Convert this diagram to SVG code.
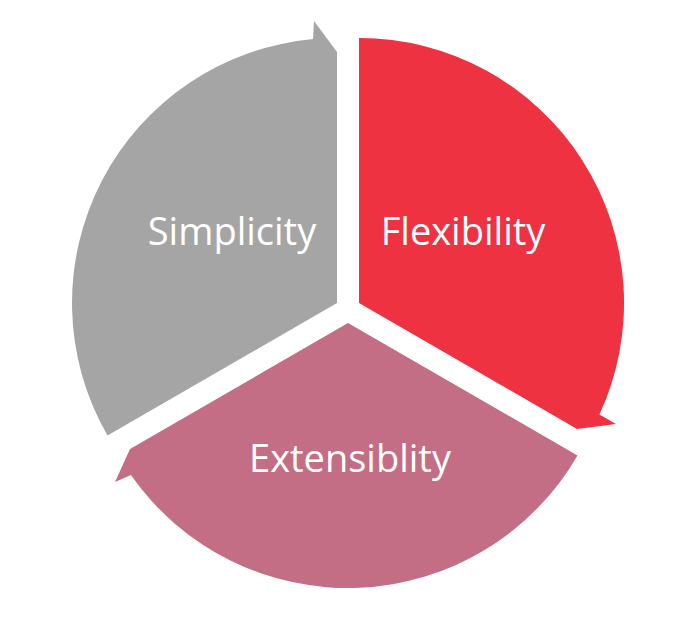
<svg xmlns="http://www.w3.org/2000/svg" width="700" height="624" viewBox="0 0 700 624">
<style>
.lbl{font-family:"Open Sans","Liberation Sans",sans-serif;font-size:38px;fill:#FFFFFF;text-anchor:middle}
</style>
<rect width="700" height="624" fill="#FFFFFF"/>
<g id="simplicity">
<path d="M337,303 L107.5,435.5 A265,265 0 0 1 313,39.1 L314,21 L337,52 Z" fill="#A5A5A5"/>
<text class="lbl" x="232" y="245">Simplicity</text>
</g>
<g id="flexibility">
<path d="M359,303 L359,38 A265,265 0 0 1 599.4,414.6 L616,424 L577,429 Z" fill="#EE3242"/>
<text class="lbl" x="463" y="245">Flexibility</text>
</g>
<g id="extensiblity">
<path d="M348,323 L577.5,455.5 A265,265 0 0 1 130.9,475 L115,482 L130,449 Z" fill="#C46E85"/>
<text class="lbl" x="350" y="472">Extensiblity</text>
</g>
<g id="connectors"></g>
</svg>
